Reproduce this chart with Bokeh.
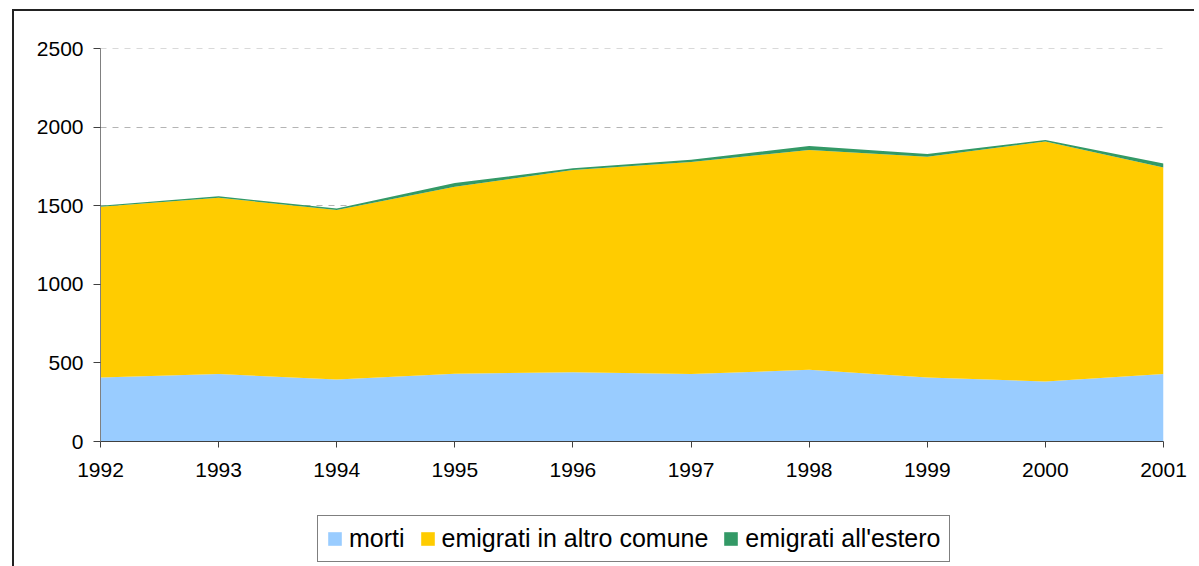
from bokeh.plotting import figure
from bokeh.layouts import column
from bokeh.models import Range1d, FixedTicker, Legend, LegendItem, ColumnDataSource
from bokeh.embed import file_html
from bokeh.resources import INLINE

years = [1992, 1993, 1994, 1995, 1996, 1997, 1998, 1999, 2000, 2001]
morti = [407, 430, 394, 432, 441, 430, 456, 407, 382, 430]
emigrati_altro_comune = [1088, 1122, 1080, 1190, 1287, 1349, 1400, 1406, 1528, 1315]
emigrati_estero = [6, 9, 10, 24, 11, 15, 25, 17, 9, 25]

series_names = ["morti", "emigrati in altro comune", "emigrati all'estero"]
colors = ["#99CCFF", "#FFCC00", "#339966"]
y_ticks = [0, 500, 1000, 1500, 2000, 2500]

src = ColumnDataSource(dict(x=years, s0=morti, s1=emigrati_altro_comune, s2=emigrati_estero))

# ---- main chart ----
p = figure(width=1180, height=501, output_backend="svg", toolbar_location=None,
           x_range=Range1d(years[0], years[-1]), y_range=Range1d(0, 2502),
           min_border_left=86, min_border_right=31, min_border_top=37, min_border_bottom=71)

renderers = p.varea_stack(["s0", "s1", "s2"], x="x", color=colors, source=src)

p.outline_line_color = None
p.background_fill_color = "white"
p.border_fill_color = "white"

p.xgrid.grid_line_color = None
p.ygrid.grid_line_color = "#b4b4b4"
p.ygrid.grid_line_dash = "6 6"
p.ygrid.grid_line_width = 1

p.xaxis.ticker = FixedTicker(ticks=years)
p.yaxis.ticker = FixedTicker(ticks=y_ticks)
for ax in (p.xaxis[0], p.yaxis[0]):
    ax.major_label_text_font = "Liberation Sans"
    ax.major_label_text_font_size = "21px"
    ax.major_label_text_color = "black"
    ax.minor_tick_line_color = None
    ax.major_tick_in = 0
p.xaxis.axis_line_color = "#404040"
p.xaxis.major_tick_line_color = "#404040"
p.xaxis.major_tick_out = 6
p.xaxis.major_label_standoff = 15
p.yaxis.axis_line_color = "#808080"
p.yaxis.major_tick_line_color = "#404040"
p.yaxis.major_tick_out = 7
p.yaxis.major_label_standoff = 10

# ---- legend strip below the chart ----
pl = figure(width=1180, height=54, output_backend="svg", toolbar_location=None,
            x_range=Range1d(0, 1), y_range=Range1d(0, 1),
            x_axis_location=None, y_axis_location=None,
            min_border_left=0, min_border_right=0, min_border_top=0, min_border_bottom=0)
pl.outline_line_color = None
pl.xgrid.grid_line_color = None
pl.ygrid.grid_line_color = None
pl.border_fill_color = "white"

# zero-height proxy areas, used only to give the legend its colour swatches
proxy = ColumnDataSource(dict(x=[0], y1=[0], y2=[0]))
leg_renderers = [pl.varea(x="x", y1="y1", y2="y2", color=c, source=proxy) for c in colors]
items = [LegendItem(label=n, renderers=[r]) for n, r in zip(series_names, leg_renderers)]
legend = Legend(items=items, orientation="horizontal", location=(217, 4),
                label_text_font="Liberation Sans", label_text_font_size="25px",
                label_text_color="black", glyph_width=17, glyph_height=17,
                label_standoff=6, spacing=14, padding=8, margin=0,
                border_line_color="black", border_line_width=1,
                background_fill_color="white", background_fill_alpha=1)
pl.add_layout(legend, "center")

layout = column(p, pl, spacing=0)
layout.styles = {"margin-left": "12px", "margin-top": "9px",
                 "border-left": "2px solid #222222", "border-top": "2px solid #222222"}

open("out.html", "w").write(file_html(layout, INLINE))
